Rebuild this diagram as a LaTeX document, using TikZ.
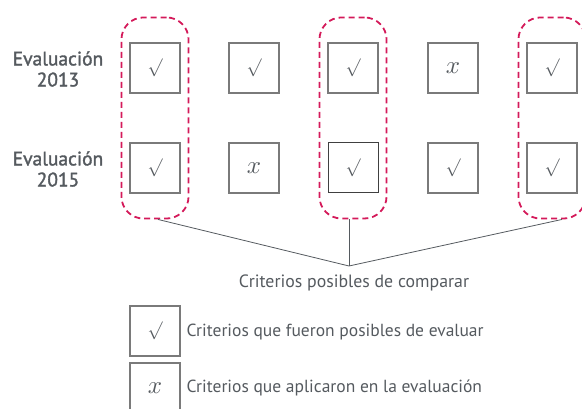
\documentclass[tikz,border=0pt]{standalone}
\usepackage{fontspec}
\usepackage{graphicx}
\setmainfont{PT Sans}
\newfontfamily\lblfont{PT Sans}[FakeBold=1.6]
\usetikzlibrary{fit,calc}
\definecolor{txtgray}{HTML}{555A5F}
\definecolor{boxgray}{HTML}{7A7A7A}
\definecolor{grpred}{HTML}{D41A5A}
\tikzset{
  cbox/.style={draw=boxgray, line width=1.1pt, minimum size=50pt, inner sep=0pt, text=txtgray},
  grp/.style={draw=grpred, line width=1.8pt, dash pattern=on 6pt off 4pt, rounded corners=22pt, inner xsep=8pt, inner ysep=25pt},
  conn/.style={draw=txtgray, line width=0.8pt},
  lbl/.style={text=txtgray, font=\lblfont\fontsize{19.5}{21}\selectfont, align=center},
  txt/.style={text=txtgray, font=\fontsize{17.8}{20}\selectfont},
  legtxt/.style={text=txtgray, font=\fontsize{17.5}{20}\selectfont, anchor=west}
}
\newcommand{\ok}{\scalebox{1.8}{$\surd$}}
\newcommand{\no}{\scalebox{2.5}{$x$}}
\begin{document}
\begin{tikzpicture}[x=1pt,y=-1pt]
\useasboundingbox (0,0) rectangle (582,409);
\clip (0,0) rectangle (582,409);
% labels
\node[lbl] (l1) at (58,69) {Evaluación\\2013};
\node[lbl] (l2) at (58,169) {Evaluación\\2015};
% row 1
\node[cbox] (a1) at (155,68) {\ok};
\node[cbox] (a2) at (254,68) {\ok};
\node[cbox] (a3) at (353,68) {\ok};
\node[cbox] (a4) at (453,68) {\no};
\node[cbox] (a5) at (552,68) {\ok};
% row 2
\node[cbox] (b1) at (155,168) {\ok};
\node[cbox] (b2) at (254,168) {\no};
\node[cbox, draw=black!75, line width=1pt] (b3) at (353,168) {\ok};
\node[cbox] (b4) at (453,168) {\ok};
\node[cbox] (b5) at (552,168) {\ok};
% groups
\node[grp, fit=(a1)(b1)] (g1) {};
\node[grp, fit=(a3)(b3)] (g2) {};
\node[grp, fit=(a5)(b5)] (g3) {};
% connectors
\coordinate (j) at (349,266);
\coordinate (s1) at ($(g1.south)+(3,0)$);
\coordinate (s2) at ($(g2.south)+(-4,0)$);
\coordinate (s3) at ($(g3.south)+(10,0)$);
\draw[conn] (s1) -- (j);
\draw[conn] (s2) -- (j);
\draw[conn] (s3) -- (j);
\node[txt] (c) at (354,283) {Criterios posibles de comparar};
% legend
\node[cbox] (k1) at (155,331) {\ok};
\node[cbox] (k2) at (155,388) {\no};
\node[legtxt] (t1) at (183,332) {Criterios que fueron posibles de evaluar};
\node[legtxt] (t2) at (183,388) {Criterios que aplicaron en la evaluación};
\end{tikzpicture}
\end{document}
